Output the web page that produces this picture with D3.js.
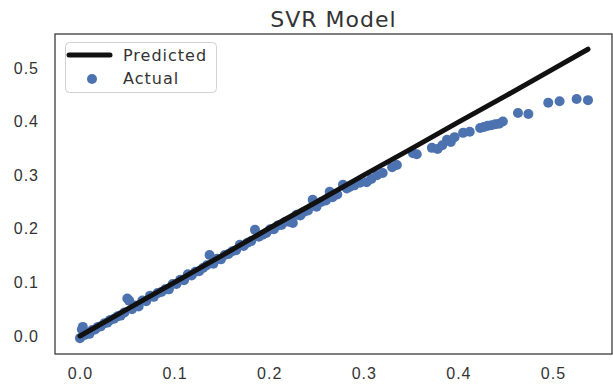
<!DOCTYPE html>
<meta charset="utf-8">
<style>
 body { margin: 0; background: #fff; }
 svg { font-family: "DejaVu Sans", sans-serif; }
 .tick text { font-size: 16px; fill: #333; letter-spacing: 1px; }
 .title { font-size: 22px; fill: #333; letter-spacing: 1px; }
 .legend text { font-size: 16px; fill: #333; letter-spacing: 1px; }
</style>
<body>
<svg width="613" height="386"></svg>
<script src="https://d3js.org/d3.v7.min.js"></script>
<script>

 // actual values
 var actualX = [0.000,0.002,0.003,0.005,0.007,0.010,0.013,0.016,0.019,0.022,0.026,0.029,0.032,0.036,0.040,0.043,0.047,0.050,0.052,0.055,
                0.058,0.062,0.066,0.070,0.074,0.078,0.082,0.086,0.090,0.094,0.098,0.102,0.106,0.110,0.114,0.118,0.122,0.126,0.130,0.134,
                0.137,0.141,0.145,0.149,0.153,0.157,0.161,0.165,0.169,0.173,0.177,0.181,0.185,0.189,0.193,0.197,0.201,0.205,0.209,0.213,
                0.217,0.221,0.225,0.229,0.233,0.237,0.241,0.246,0.250,0.255,0.260,0.264,0.267,0.272,0.278,0.282,0.285,0.290,0.296,0.303,
                0.308,0.314,0.320,0.330,0.335,0.352,0.356,0.372,0.378,0.383,0.388,0.392,0.396,0.405,0.412,0.423,0.427,0.431,0.435,0.439,
                0.443,0.447,0.463,0.474,0.495,0.507,0.525,0.537];
 var actualY = [-0.004,0.012,0.017,0.002,0.006,0.004,0.011,0.012,0.017,0.018,0.024,0.025,0.030,0.032,0.037,0.038,0.044,0.070,0.066,0.050,
                0.057,0.055,0.066,0.065,0.075,0.073,0.080,0.082,0.087,0.087,0.097,0.097,0.105,0.104,0.115,0.113,0.120,0.121,0.127,0.132,
                0.151,0.135,0.144,0.143,0.151,0.153,0.158,0.160,0.170,0.168,0.174,0.177,0.198,0.185,0.189,0.192,0.199,0.199,0.206,0.207,
                0.213,0.213,0.211,0.226,0.225,0.232,0.234,0.254,0.241,0.250,0.253,0.269,0.259,0.264,0.282,0.275,0.278,0.281,0.286,0.287,
                0.293,0.300,0.304,0.315,0.319,0.341,0.339,0.351,0.349,0.356,0.366,0.362,0.371,0.379,0.381,0.388,0.390,0.392,0.393,0.395,
                0.396,0.400,0.416,0.414,0.435,0.438,0.442,0.440];

 // predicted line
 var predX = [0.000,0.050,0.100,0.150,0.200,0.250,0.300,0.350,0.400,0.450,0.500,0.537];
 var predY = [0.000,0.050,0.100,0.150,0.201,0.250,0.300,0.349,0.399,0.448,0.498,0.535];

 var ticks = [0.0,0.1,0.2,0.3,0.4,0.5];

 var svg = d3.select("svg"),
     plotLeft = 55, plotRight = 612, plotTop = 34, plotBottom = 354;

 var x = d3.scaleLinear().domain([-0.0264, 0.5624]).range([plotLeft, plotRight]);
 var y = d3.scaleLinear().domain([-0.0336, 0.5634]).range([plotBottom, plotTop]);

 svg.append("text")
    .attr("class", "title")
    .attr("x", (plotLeft + plotRight) / 2)
    .attr("y", 27)
    .attr("text-anchor", "middle")
    .text("SVR Model");

 var xAxis = svg.append("g")
    .attr("transform", "translate(0," + plotBottom + ")")
    .call(d3.axisBottom(x).tickValues(ticks).tickSize(0).tickPadding(14).tickFormat(d3.format(".1f")));
 xAxis.select(".domain").remove();

 var yAxis = svg.append("g")
    .attr("transform", "translate(" + plotLeft + ",0)")
    .call(d3.axisLeft(y).tickValues(ticks).tickSize(0).tickPadding(16).tickFormat(d3.format(".1f")));
 yAxis.select(".domain").remove();

 var pts = actualX.map(function(d, i) { return [d, actualY[i]]; });

 svg.append("g").selectAll("circle")
    .data(pts).enter().append("circle")
    .attr("cx", function(d) { return x(d[0]); })
    .attr("cy", function(d) { return y(d[1]); })
    .attr("r", 5)
    .style("fill", "#4c72b0");

 var line = d3.line()
    .x(function(d) { return x(d[0]); })
    .y(function(d) { return y(d[1]); });

 svg.append("path")
    .datum(predX.map(function(d, i) { return [d, predY[i]]; }))
    .attr("d", line)
    .style("fill", "none")
    .style("stroke", "#111")
    .style("stroke-width", 5)
    .style("stroke-linecap", "round");

 // frame
 svg.append("rect")
    .attr("x", plotLeft).attr("y", plotTop)
    .attr("width", plotRight - plotLeft).attr("height", plotBottom - plotTop)
    .style("fill", "none")
    .style("stroke", "#333")
    .style("stroke-width", 1.25);

 // legend
 var lg = svg.append("g").attr("class", "legend");
 lg.append("rect")
   .attr("x", 65.5).attr("y", 42.5).attr("width", 151).attr("height", 50).attr("rx", 4)
   .style("fill", "#fff").style("fill-opacity", 0.8)
   .style("stroke", "#d0d0d0");
 lg.append("line")
   .attr("x1", 69).attr("x2", 110).attr("y1", 55).attr("y2", 55)
   .style("stroke", "#111").style("stroke-width", 5).style("stroke-linecap", "round");
 lg.append("circle").attr("cx", 92).attr("cy", 79).attr("r", 5).style("fill", "#4c72b0");
 lg.append("text").attr("x", 123).attr("y", 61).text("Predicted");
 lg.append("text").attr("x", 123).attr("y", 84).text("Actual");

</script>
</body>
